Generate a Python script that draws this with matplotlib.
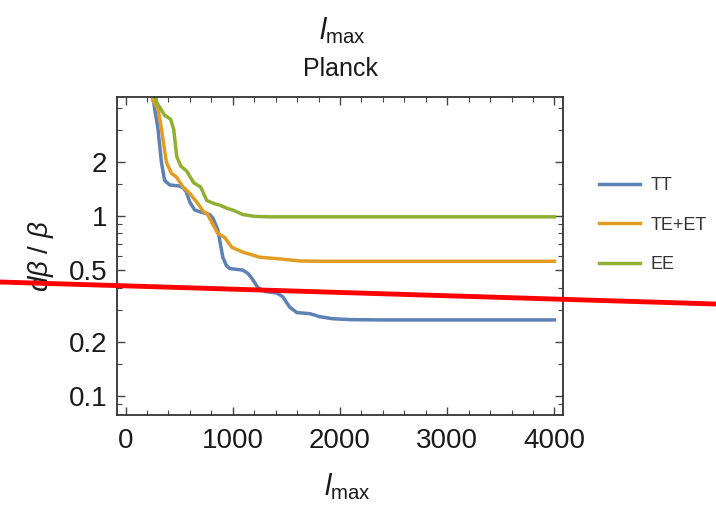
import matplotlib
matplotlib.use("Agg")
import matplotlib.pyplot as plt
from matplotlib.lines import Line2D
from matplotlib.ticker import FixedLocator, NullFormatter

plt.rcParams['font.family'] = ['Liberation Sans', 'DejaVu Sans']
plt.rcParams['mathtext.fontset'] = 'custom'
plt.rcParams['mathtext.rm'] = 'Liberation Sans'
plt.rcParams['mathtext.it'] = 'Liberation Sans:italic'

# forecast error on beta vs. maximum multipole
l_tt = [230, 255, 271, 302, 334, 364, 411, 505, 540, 567, 598, 645, 707, 785,
        816, 860, 907, 940, 972, 1093, 1140, 1178, 1234, 1300, 1411, 1467,
        1533, 1598, 1720, 1813, 1935, 2100, 2374, 4000]
tt = [5.5, 4.6, 3.97, 3.07, 2.0, 1.58, 1.49, 1.47, 1.43, 1.36, 1.20, 1.08,
      1.05, 1.02, 0.97, 0.84, 0.59, 0.53, 0.51, 0.50, 0.48, 0.45, 0.40, 0.38,
      0.373, 0.355, 0.31, 0.29, 0.286, 0.275, 0.268, 0.265, 0.264, 0.264]

l_te = [225, 255, 302, 334, 380, 427, 474, 536, 598, 676, 720, 766, 813, 860,
        925, 991, 1093, 1252, 1467, 1626, 1800, 4000]
te = [5.5, 4.4, 3.97, 3.07, 2.0, 1.73, 1.65, 1.45, 1.34, 1.17, 1.07, 1.02,
      0.90, 0.80, 0.76, 0.67, 0.63, 0.59, 0.575, 0.562, 0.56, 0.56]

l_ee = [255, 290, 364, 420, 449, 477, 514, 570, 636, 701, 757, 832, 879, 953,
        1000, 1093, 1206, 1346, 4000]
ee = [5.5, 4.3, 3.64, 3.46, 3.04, 2.15, 1.90, 1.78, 1.53, 1.45, 1.22, 1.17,
      1.15, 1.10, 1.08, 1.02, 0.995, 0.99, 0.99]

series = [("TT", l_tt, tt, "#5E81B5"),
          ("TE+ET", l_te, te, "#E19C24"),
          ("EE", l_ee, ee, "#8FB032")]

x_major = [0, 1000, 2000, 3000, 4000]
y_major = [0.1, 0.2, 0.5, 1, 2]
y_labels = ["0.1", "0.2", "0.5", "1", "2"]
y_minor = [0.09, 0.15, 0.3, 0.4, 0.6, 0.7, 0.8, 0.9, 1.5, 3, 4]

# red stroke across the figure (figure fractions)
red_x = [0.0, 1.0]
red_y = [0.4556, 0.4131]

fig = plt.figure(figsize=(7.16, 5.18), dpi=100)
ax = fig.add_axes([0.1634, 0.1988, 0.6229, 0.6139])

for name, lx, ly, c in series:
    ax.plot(lx, ly, color=c, lw=2.5, label=name, solid_joinstyle='round')

ax.set_yscale('log')
ax.set_xlim(-80, 4080)
ax.set_ylim(0.078, 4.6)

ax.xaxis.set_major_locator(FixedLocator(x_major))
ax.xaxis.set_minor_locator(FixedLocator(range(0, 4001, 200)))
ax.yaxis.set_major_locator(FixedLocator(y_major))
ax.set_yticklabels(y_labels)
ax.yaxis.set_minor_locator(FixedLocator(y_minor))
ax.yaxis.set_minor_formatter(NullFormatter())

for s in ax.spines.values():
    s.set_linewidth(1.3)
    s.set_color('#333333')
ax.tick_params(which='both', direction='in', top=True, right=True,
               color='#444444', labelsize=20, labelcolor='#1a1a1a')
ax.tick_params(which='major', length=6, width=1.0)
ax.tick_params(which='minor', length=3.5, width=0.8)
ax.tick_params(axis='x', pad=9)
ax.tick_params(axis='y', pad=7)

ax.set_ylabel(r'$d\beta\ /\ \beta$', fontsize=20, labelpad=9, color='#1a1a1a')

fig.text(0.478, 0.941, r'$l_{\mathrm{max}}$', fontsize=21, ha='center',
         va='center', color='#1a1a1a')
fig.text(0.475, 0.866, 'Planck', fontsize=18, ha='center', va='center',
         color='#1a1a1a')
fig.text(0.485, 0.060, r'$l_{\mathrm{max}}$', fontsize=21, ha='center',
         va='center', color='#1a1a1a')

ax.legend(loc='upper left', bbox_to_anchor=(0.826, 0.672),
          bbox_transform=fig.transFigure, frameon=False, fontsize=13,
          handlelength=2.3, handletextpad=0.6, labelspacing=1.25,
          borderaxespad=0, labelcolor='#333333')

fig.add_artist(Line2D(red_x, red_y, transform=fig.transFigure,
                      color='#ff0000', lw=3.5))

fig.savefig('out.png', dpi=100)
